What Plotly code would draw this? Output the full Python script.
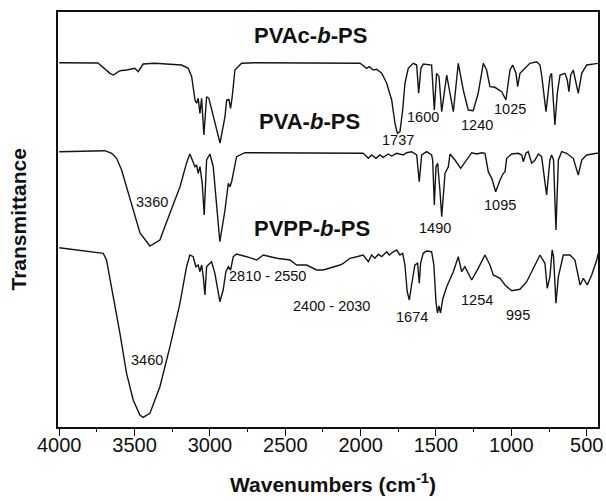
import plotly.graph_objects as go

# ---------------- data ----------------
# PVAc-b-PS (top spectrum): wavenumber (cm-1) and transmittance (arb. units)
pvac_wn = [4000, 3743, 3663, 3641, 3597, 3553, 3498, 3476, 3443, 3365, 3188, 3144, 3121, 3099, 3088,
           3078, 3066, 3055, 3040, 3022, 3007, 2933, 2900, 2889, 2874, 2863, 2852, 2834, 2790, 2701,
           2004, 1960, 1943, 1916, 1894, 1860, 1827, 1794, 1772, 1756, 1739, 1721, 1706, 1684, 1651,
           1628, 1615, 1600, 1584, 1529, 1511, 1496, 1480, 1462, 1429, 1385, 1352, 1319, 1286, 1253,
           1220, 1186, 1164, 1142, 1109, 1064, 1036, 1009, 991, 969, 958, 943, 921, 877, 832,
           810, 799, 770, 744, 733, 711, 695, 677, 644, 629, 618, 606, 589, 556, 533,
           500, 445, 423]
pvac_t = [364.3, 364, 353.7, 352, 356.3, 357, 358.7, 355.3, 363, 363.7, 362, 358.7, 350.3, 327, 323.7,
          328.7, 313.7, 328.7, 292, 330.3, 328.7, 284, 310.3, 327, 327.7, 318.7, 330.3, 357, 363.7, 364.3,
          363.7, 358.7, 360.3, 357, 357.7, 353.7, 343.7, 327, 303.7, 293.7, 295.3, 317, 343.7, 358.7, 363.7,
          362, 333.7, 358.7, 363, 362, 317, 353.7, 350.3, 315.3, 352, 315.3, 363.7, 337, 317, 316.3,
          333.7, 363.7, 357, 340.3, 339.7, 335.3, 327, 357, 362, 353.7, 340.3, 353.7, 357, 363.7, 365.3,
          362, 352, 315.3, 350.3, 353.7, 302, 333.7, 352, 353.7, 347, 335.3, 352, 357, 333.7, 353.7,
          362, 363.7, 363.7]

# PVA-b-PS (middle spectrum)
pva_wn = [4000, 3808, 3697, 3652, 3619, 3586, 3542, 3531, 3498, 3464, 3398, 3332, 3265, 3199, 3155,
          3133, 3099, 3088, 3078, 3066, 3051, 3038, 3022, 3000, 2978, 2945, 2934, 2900, 2878, 2867,
          2856, 2823, 2768, 2701, 1983, 1949, 1927, 1898, 1872, 1850, 1817, 1794, 1761, 1717, 1695,
          1662, 1628, 1611, 1595, 1562, 1529, 1522, 1511, 1500, 1489, 1474, 1462, 1440, 1418, 1407,
          1374, 1336, 1297, 1263, 1230, 1197, 1175, 1153, 1130, 1104, 1075, 1053, 1042, 1031, 998,
          954, 931, 921, 903, 888, 865, 843, 821, 799, 766, 744, 733, 720, 704, 688,
          666, 633, 589, 556, 533, 500, 433, 423]
pva_t = [275.3, 276.3, 276.3, 273.7, 268.7, 257, 233.7, 227, 210.3, 194, 181, 187, 214, 240, 264,
         273, 260.3, 262, 253.7, 260.3, 243.7, 212, 267, 273, 260.3, 203.7, 185.3, 217, 243.7, 240.3,
         245.3, 270.3, 274.3, 274.3, 273.7, 268.7, 272, 268.7, 272, 269.7, 273, 271, 273.7, 272, 274.3,
         275.3, 272, 245.3, 272, 275.3, 272, 267, 222, 260.3, 263.7, 237, 210.3, 253.7, 260.3, 273,
         267, 258.7, 267, 274.3, 273, 274.3, 273.7, 255.3, 248.7, 235.3, 247, 253.7, 255.3, 268.7, 273,
         273.7, 272, 265.3, 273.7, 275.3, 263.7, 267, 273, 270.3, 232, 267, 272, 267, 197, 267,
         275.3, 273.7, 268.7, 252, 267, 272, 273.7, 273.7]

# PVPP-b-PS (bottom spectrum)
pvpp_wn = [4000, 3708, 3686, 3652, 3597, 3553, 3509, 3465, 3443, 3398, 3332, 3265, 3199, 3155, 3133,
           3111, 3093, 3078, 3066, 3055, 3044, 3033, 3022, 3000, 2989, 2967, 2934, 2912, 2894, 2878,
           2863, 2845, 2823, 2756, 2690, 2646, 2557, 2469, 2425, 2358, 2292, 2248, 2204, 2137, 2115,
           2071, 2026, 1983, 1949, 1927, 1905, 1883, 1860, 1827, 1810, 1788, 1761, 1739, 1721, 1706,
           1691, 1677, 1662, 1640, 1622, 1611, 1602, 1585, 1562, 1529, 1514, 1500, 1490, 1480, 1470,
           1455, 1429, 1407, 1385, 1352, 1330, 1308, 1263, 1220, 1175, 1142, 1120, 1075, 1042, 998,
           943, 898, 854, 810, 777, 762, 744, 729, 720, 704, 688, 655, 611, 578, 544,
           522, 496, 467, 433, 423]
pvpp_t = [179.3, 173.7, 167, 140.3, 93.7, 53.7, 27, 12, 9.7, 13.7, 40.3, 80.3, 123.7, 160.3, 172,
          170.3, 160.3, 162, 155.3, 162, 150.3, 132, 160.3, 163.7, 165.3, 153.7, 125.3, 137, 155.3, 160.3,
          157, 170.3, 173, 170.3, 167, 172, 168.7, 167, 162, 162, 157, 157, 158.7, 162, 163.7,
          168.7, 170.3, 172, 165.3, 172, 168.7, 172.7, 170.3, 175.3, 172, 174.7, 177, 172, 173.7, 162,
          135.3, 127, 142, 162, 163.7, 143.7, 163.7, 173.7, 176, 175.3, 162, 125, 114, 121, 114,
          128, 140.3, 147, 155.3, 170.3, 155.3, 160.3, 147, 158.7, 172, 162, 152, 148.7, 142, 136.3,
          137.7, 145.3, 158.7, 172, 163.7, 138.7, 150.3, 177, 170.3, 123.7, 150.3, 172, 172, 167, 142,
          148.7, 142, 152, 167, 173.7]

series = [("PVAc-b-PS", pvac_wn, pvac_t),
          ("PVA-b-PS", pva_wn, pva_t),
          ("PVPP-b-PS", pvpp_wn, pvpp_t)]

# sample names and peak labels: (text, wavenumber, transmittance)
names = [("<b>PVAc-<i>b</i>-PS</b>", 2330, 392),
         ("<b>PVA-<i>b</i>-PS</b>", 2336, 306),
         ("<b>PVPP-<i>b</i>-PS</b>", 2323, 199)]
peaks = [("3360", 3385, 225), ("1737", 1752, 287), ("1600", 1586, 310),
         ("1240", 1228, 302), ("1025", 1010, 318), ("1490", 1506, 199),
         ("1095", 1075, 222), ("3460", 3418, 67), ("2810 - 2550", 2615, 151),
         ("2400 - 2030", 2190, 121), ("1674", 1660, 110), ("1254", 1228, 127),
         ("995", 955, 112)]

tick_vals = [4000, 3500, 3000, 2500, 2000, 1500, 1000, 500]
tick_text = ["4000", "3500", "3000", "2500", "2000", "1500", "1000", "500"]

FONT = "Arial, Liberation Sans, Helvetica, sans-serif"

fig = go.Figure()
for name, wn, t in series:
    fig.add_trace(go.Scatter(x=wn, y=t, mode="lines", name=name,
                             line=dict(color="#151515", width=1.4),
                             showlegend=False, hoverinfo="skip"))

for text, x, y in names:
    fig.add_annotation(x=x, y=y, xref="x", yref="y", text=text, showarrow=False,
                       xanchor="center", yanchor="middle",
                       font=dict(family=FONT, size=22, color="#111111"))
for text, x, y in peaks:
    fig.add_annotation(x=x, y=y, xref="x", yref="y", text=text, showarrow=False,
                       xanchor="center", yanchor="middle",
                       font=dict(family=FONT, size=14.5, color="#111111"))

# axis titles
fig.add_annotation(x=0.51, y=-0.135, xref="paper", yref="paper", showarrow=False,
                   xanchor="center", yanchor="middle",
                   text="<b>Wavenumbers (cm<sup>-1</sup>)</b>",
                   font=dict(family=FONT, size=21, color="#111111"))
fig.add_annotation(x=-0.074, y=0.50, xref="paper", yref="paper", showarrow=False,
                   xanchor="center", yanchor="middle",
                   text="<b>Transmittance</b>", textangle=-90,
                   font=dict(family=FONT, size=21, color="#111111"))

fig.update_layout(
    width=606, height=501,
    margin=dict(l=58, r=8, t=12, b=74),
    paper_bgcolor="white", plot_bgcolor="white",
    font=dict(family=FONT, color="#111111"),
    xaxis=dict(range=[4008, 425], tickvals=tick_vals, ticktext=tick_text,
               automargin=False, ticklabelstandoff=-8, ticklabeloverflow="allow",
               ticks="outside", ticklen=7, tickwidth=1.3, tickcolor="#111",
               minor=dict(dtick=250, ticks="outside", ticklen=3, tickwidth=1, tickcolor="#111"),
               showline=True, linecolor="#111", linewidth=1.5, mirror=True,
               showgrid=False, zeroline=False,
               tickfont=dict(family=FONT, size=20, color="#111")),
    yaxis=dict(range=[0, 415], showticklabels=False, ticks="", automargin=False,
               showline=True, linecolor="#111", linewidth=1.5, mirror=True,
               showgrid=False, zeroline=False),
)

# remove the default 8 px page margin so the figure fills the window exactly
fig.write_html("out.html", config={"displayModeBar": False},
               post_script="document.body.style.margin='0';document.body.style.overflow='hidden';")
